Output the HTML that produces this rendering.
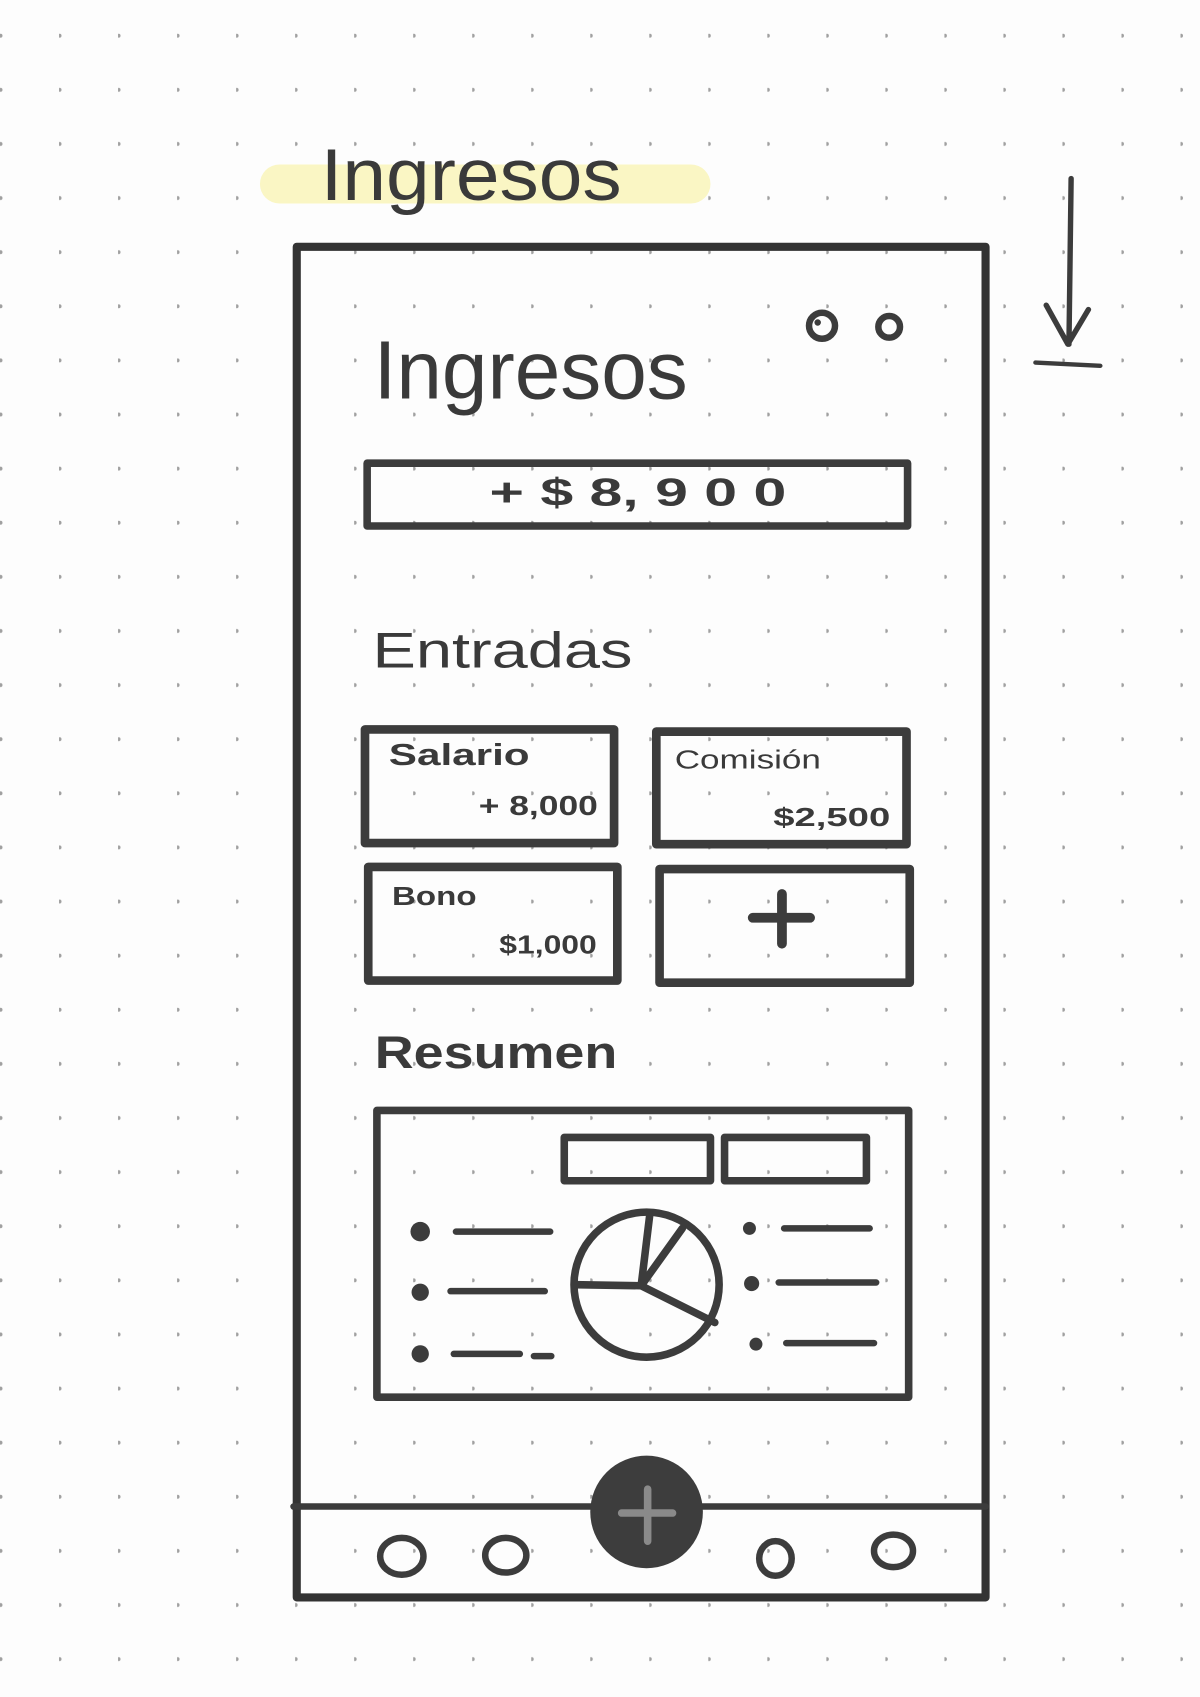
<!DOCTYPE html>
<html><head><meta charset="utf-8"><style>html,body{margin:0;padding:0;background:#fdfdfd}svg{display:block}</style></head>
<body>
<svg width="1200" height="1697" viewBox="0 0 1108 1568" preserveAspectRatio="none" xmlns="http://www.w3.org/2000/svg">
<defs><pattern id="d" x="0" y="8" width="54.5" height="50" patternUnits="userSpaceOnUse"><circle cx="0.5" cy="25" r="1.8" fill="#a0a0a0"/></pattern></defs>
<rect width="1108" height="1568" fill="#fdfdfd"/>
<rect width="1108" height="1568" fill="url(#d)"/>
<rect x="240" y="152" width="416" height="36" rx="18" fill="#faf6c4"/>
<g font-family="Liberation Sans, sans-serif" fill="#3a3a3a">
<text x="296" y="185" font-size="68" textLength="278" lengthAdjust="spacingAndGlyphs">Ingresos</text>
</g>
<g fill="none" stroke="#3c3c3c" stroke-linecap="round" stroke-linejoin="round">
<rect x="274" y="228" width="636" height="1248" stroke="#333" stroke-width="7.5"/>
<rect x="339" y="428" width="499" height="58" stroke-width="7"/>
<rect x="337" y="674" width="230" height="105" stroke-width="8"/>
<rect x="606" y="676" width="231" height="104" stroke-width="8"/>
<rect x="340" y="801" width="230" height="105" stroke-width="8"/>
<rect x="609" y="803" width="231" height="105" stroke-width="8"/>
<path d="M695 848 H748 M722 826 V872" stroke-width="9"/>
<rect x="348" y="1026" width="491" height="265" stroke-width="7"/>
<rect x="521" y="1051" width="135" height="40" stroke-width="7"/>
<rect x="669" y="1051" width="131" height="40" stroke-width="7"/>
<circle cx="597" cy="1187" r="67" stroke-width="7"/>
<path d="M531 1187 L592 1188 L600 1122 M592 1188 L630 1135 M592 1188 L660 1222" stroke-width="7"/>
<path d="M421 1138 H508 M416 1193 H503 M419 1251 H480 M493 1253 H509 M724 1135 H803 M719 1185 H809 M726 1241 H807" stroke-width="6"/>
<line x1="271" y1="1392" x2="910" y2="1392" stroke-width="6"/>
<ellipse cx="371" cy="1438" rx="20" ry="17" stroke-width="6"/>
<ellipse cx="467" cy="1437" rx="19" ry="16" stroke-width="6"/>
<ellipse cx="716" cy="1440" rx="15" ry="16" stroke-width="6"/>
<ellipse cx="825" cy="1433" rx="18" ry="15" stroke-width="6"/>
<circle cx="759" cy="301" r="12" stroke-width="6"/>
<circle cx="821" cy="302" r="10" stroke-width="6"/>
<path d="M989 165 L987 318 M966 282 L986 318 L1005 286" stroke-width="5"/>
<path d="M956 335 L1016 338" stroke-width="4"/>
</g>
<circle cx="755" cy="298" r="3" fill="#3c3c3c"/>
<g fill="#3c3c3c"><circle cx="388" cy="1138" r="9"/><circle cx="388" cy="1194" r="8"/><circle cx="388" cy="1251" r="8"/><circle cx="692" cy="1135" r="6"/><circle cx="694" cy="1186" r="7"/><circle cx="698" cy="1242" r="6"/></g>
<circle cx="597" cy="1397" r="52" fill="#3d3d3d"/>
<path d="M574 1398 H621 M598 1376 V1424" stroke="#8a8a8a" stroke-width="7" stroke-linecap="round"/>
<g font-family="Liberation Sans, sans-serif" fill="#3a3a3a">
<text x="345" y="368" font-size="76" textLength="290" lengthAdjust="spacingAndGlyphs">Ingresos</text>
<text x="452" y="467" font-size="36" font-weight="bold" textLength="274" lengthAdjust="spacingAndGlyphs">+ $  8, 9 0 0</text>
<text x="344" y="617" font-size="46" textLength="240" lengthAdjust="spacingAndGlyphs">Entradas</text>
<text x="359" y="707" font-size="28" font-weight="bold" textLength="130" lengthAdjust="spacingAndGlyphs">Salario</text>
<text x="442" y="753" font-size="26" font-weight="bold" textLength="110" lengthAdjust="spacingAndGlyphs">+ 8,000</text>
<text x="623" y="710" font-size="24" textLength="135" lengthAdjust="spacingAndGlyphs">Comisión</text>
<text x="714" y="763" font-size="24" font-weight="bold" textLength="108" lengthAdjust="spacingAndGlyphs">$2,500</text>
<text x="362" y="836" font-size="24" font-weight="bold" textLength="78" lengthAdjust="spacingAndGlyphs">Bono</text>
<text x="461" y="881" font-size="24" font-weight="bold" textLength="90" lengthAdjust="spacingAndGlyphs">$1,000</text>
<text x="346" y="987" font-size="42" font-weight="bold" textLength="224" lengthAdjust="spacingAndGlyphs">Resumen</text>
</g>
</svg>
</body></html>
